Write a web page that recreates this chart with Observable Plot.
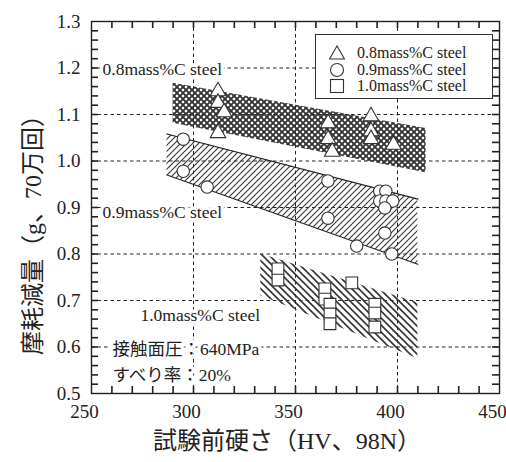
<!DOCTYPE html>
<html><head><meta charset="utf-8">
<script src="https://cdn.jsdelivr.net/npm/d3@7"></script>
<script src="https://cdn.jsdelivr.net/npm/@observablehq/plot@0.6"></script>
<style>
body{margin:0;background:#fff;}
#wrap{position:relative;width:506px;height:462px;font-family:"Liberation Serif","Noto Sans CJK JP",serif;color:#222;}
#xt{position:absolute;left:0;width:574px;top:421px;text-align:center;font-size:24px;white-space:nowrap;}
#yt{position:absolute;left:30px;top:229px;transform:translate(-50%,-50%) rotate(-90deg);font-size:24px;white-space:nowrap;}
#leg{position:absolute;left:315px;top:34px;width:176px;height:63px;border:1.3px solid #333;background:#fff;font-size:16px;}
#leg .row{position:absolute;left:0;height:17px;display:flex;align-items:center;}
#leg svg{margin-left:13px;margin-right:12px;}
</style>
</head><body><div id="wrap"></div>
<script>
// 0.8mass%C steel (triangles)
const hv08   = [312, 312, 315, 312, 366, 366, 368, 387, 387, 387, 398];
const wear08 = [1.150, 1.125, 1.105, 1.060, 1.081, 1.047, 1.020, 1.096, 1.064, 1.047, 1.035];
// 0.9mass%C steel (circles)
const hv09   = [295, 295, 306.7, 365.9, 365.9, 380, 391.3, 394.3, 391.3, 394.3, 397.7, 393.8, 393.8, 397.2];
const wear09 = [1.047, 0.978, 0.944, 0.957, 0.877, 0.817, 0.935, 0.935, 0.914, 0.914, 0.914, 0.899, 0.845, 0.800];
// 1.0mass%C steel (squares)
const hv10   = [341.4, 341.4, 364.4, 364.4, 366.9, 366.9, 366.9, 377.6, 388.9, 388.9, 388.9];
const wear10 = [0.768, 0.744, 0.725, 0.703, 0.692, 0.671, 0.650, 0.738, 0.692, 0.673, 0.643];
// scatter bands (ends: hardness, upper, lower)
const band08X = [290, 414], band08Top = [1.167, 1.070], band08Bot = [1.081, 0.975];
const band09X = [287, 410], band09Top = [1.058, 0.918], band09Bot = [0.970, 0.778];
const band10X = [333, 410], band10Top = [0.800, 0.695], band10Bot = [0.710, 0.575];
// labels and ticks
const seriesNames = ["0.8mass%C steel", "0.9mass%C steel", "1.0mass%C steel"];
const noteLabels = ["接触面圧：640MPa", "すべり率：20%"];
const xMajor = [250, 300, 350, 400, 450];
const yMajor = [0.5, 0.6, 0.7, 0.8, 0.9, 1.0, 1.1, 1.2, 1.3];
const xGrid = [300, 350, 400];
const yGrid = [0.6, 0.7, 0.8, 0.9, 1.0, 1.1, 1.2];
const xMinor = [260, 270, 280, 290, 300, 310, 320, 330, 340, 350, 360, 370, 380, 390, 400, 410, 420, 430, 440];
const yMinor = [0.52, 0.54, 0.56, 0.58, 0.6, 0.62, 0.64, 0.66, 0.68, 0.7, 0.72, 0.74, 0.76, 0.78, 0.8, 0.82, 0.84, 0.86, 0.88, 0.9, 0.92, 0.94, 0.96, 0.98, 1.0, 1.02, 1.04, 1.06, 1.08, 1.1, 1.12, 1.14, 1.16, 1.18, 1.2, 1.22, 1.24, 1.26, 1.28];

const pts = (xs, ys) => xs.map((x, i) => ({x, y: ys[i]}));
const band = (xs, t, b) => xs.map((x, i) => ({x, y1: b[i], y2: t[i]}));

const inPlotLabels = [
  {x: 255.4, y: 1.197, t: seriesNames[0]},
  {x: 255.4, y: 0.889, t: seriesNames[1]},
  {x: 274, y: 0.667, t: seriesNames[2]},
  {x: 260.3, y: 0.594, t: noteLabels[0]},
  {x: 260.3, y: 0.538, t: noteLabels[1]}
];

const W = 506, H = 462, ML = 91, MR = 7, MT = 21, MB = 69;
const innerW = W - ML - MR, innerH = H - MT - MB, tl = 7;
const ink = "#222";
const chart = Plot.plot({
  width: W, height: H,
  marginLeft: ML, marginRight: MR, marginTop: MT, marginBottom: MB,
  style: {fontFamily: '"Liberation Serif","Noto Sans CJK JP",serif', color: ink, background: "transparent"},
  x: {domain: [250, 450]},
  y: {domain: [0.5, 1.3]},
  marks: [
    Plot.gridX(xGrid, {stroke: ink, strokeOpacity: 1, strokeDasharray: "3.5,3", strokeWidth: 1}),
    Plot.gridY(yGrid, {stroke: ink, strokeOpacity: 1, strokeDasharray: "3.5,3", strokeWidth: 1}),
    Plot.areaY(band(band08X, band08Top, band08Bot), {x: "x", y1: "y1", y2: "y2", fill: "url(#cross)", curve: "linear"}),
    Plot.areaY(band(band09X, band09Top, band09Bot), {x: "x", y1: "y1", y2: "y2", fill: "url(#fwd)", curve: "linear"}),
    Plot.line(pts(band09X, band09Top), {x: "x", y: "y", stroke: ink, strokeWidth: 1.2}),
    Plot.line(pts(band09X, band09Bot), {x: "x", y: "y", stroke: ink, strokeWidth: 1.2}),
    Plot.areaY(band(band10X, band10Top, band10Bot), {x: "x", y1: "y1", y2: "y2", fill: "url(#back)", curve: "linear"}),
    Plot.text(inPlotLabels, {x: "x", y: "y", text: "t", textAnchor: "start", fontSize: 17.5, fill: ink, stroke: "white", strokeWidth: 7, strokeLinejoin: "round"}),
    Plot.dot(pts(hv08, wear08), {x: "x", y: "y", symbol: "triangle", r: 5.8, fill: "white", stroke: "#333", strokeWidth: 1.1}),
    Plot.dot(pts(hv09, wear09), {x: "x", y: "y", symbol: "circle", r: 6.2, fill: "white", stroke: "#333", strokeWidth: 1.1}),
    Plot.dot(pts(hv10, wear10), {x: "x", y: "y", symbol: "square", r: 6.6, fill: "white", stroke: "#333", strokeWidth: 1.1}),
    // inward minor ticks on all four sides
    Plot.tickX(xMinor, {x: d => d, insetTop: innerH - tl, stroke: ink, strokeWidth: 1.6}),
    Plot.tickX(xMinor, {x: d => d, insetBottom: innerH - tl, stroke: ink, strokeWidth: 1.6}),
    Plot.tickY(yMinor, {y: d => d, insetRight: innerW - tl, stroke: ink, strokeWidth: 1.6}),
    Plot.tickY(yMinor, {y: d => d, insetLeft: innerW - tl, stroke: ink, strokeWidth: 1.6}),
    Plot.frame({stroke: ink, strokeWidth: 1.4}),
    Plot.axisX({ticks: xMajor, tickSize: 0, tickPadding: 11, fontSize: 19, label: null, dx: -7}),
    Plot.axisY({ticks: yMajor, tickSize: 0, tickPadding: 11, fontSize: 19, label: null, tickFormat: d3.format(".1f")})
  ]
});

// hatch patterns
const ns = "http://www.w3.org/2000/svg";
const defs = document.createElementNS(ns, "defs");
defs.innerHTML = `
<pattern id="cross" patternUnits="userSpaceOnUse" width="6" height="6">
  <path d="M-1,1 l2,-2 M0,6 l6,-6 M5,7 l2,-2" stroke="#333" stroke-width="1.9"/>
  <path d="M-1,5 l2,2 M0,0 l6,6 M5,-1 l2,2" stroke="#333" stroke-width="1.9"/>
</pattern>
<pattern id="fwd" patternUnits="userSpaceOnUse" width="6" height="6">
  <path d="M-1,1 l2,-2 M0,6 l6,-6 M5,7 l2,-2" stroke="#333" stroke-width="1.1"/>
</pattern>
<pattern id="back" patternUnits="userSpaceOnUse" width="7" height="7">
  <path d="M-1,6 l2,2 M0,0 l7,7 M6,-1 l2,2" stroke="#333" stroke-width="1.6"/>
</pattern>`;
chart.insertBefore(defs, chart.firstChild);

const wrap = document.getElementById("wrap");
wrap.appendChild(chart);

const xt = document.createElement("div"); xt.id = "xt"; xt.textContent = "試験前硬さ（HV、98N）"; wrap.appendChild(xt);
const yt = document.createElement("div"); yt.id = "yt"; yt.textContent = "摩耗減量（g、70万回）"; wrap.appendChild(yt);

// legend
const leg = document.createElement("div"); leg.id = "leg";
const symbols = [
  '<polygon points="8,1 15.5,14 0.5,14" fill="white" stroke="#333" stroke-width="1.1"/>',
  '<circle cx="8" cy="8" r="6.5" fill="white" stroke="#333" stroke-width="1.1"/>',
  '<rect x="1.5" y="1.5" width="13" height="13" fill="white" stroke="#333" stroke-width="1.1"/>'
];
const rowTops = [9, 26, 42];
seriesNames.forEach((name, i) => {
  const row = document.createElement("div"); row.className = "row"; row.style.top = rowTops[i] + "px";
  row.innerHTML = `<svg width="16" height="16">${symbols[i]}</svg><span>${name}</span>`;
  leg.appendChild(row);
});
wrap.appendChild(leg);
</script>
</body></html>
